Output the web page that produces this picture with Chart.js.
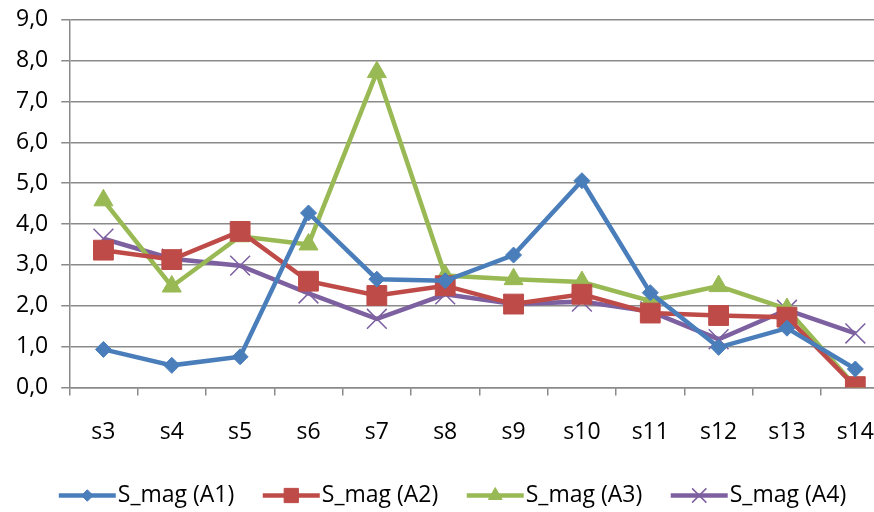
<!DOCTYPE html>
<html>
<head>
<meta charset="utf-8">
<script src="https://cdn.jsdelivr.net/npm/chart.js@4.4.0/dist/chart.umd.min.js"></script>
<style>
  html, body { margin: 0; padding: 0; background: #fff; overflow: hidden; }
  canvas { display: block; position: absolute; left: 0; top: -7px; }
</style>
</head>
<body>
<canvas id="grafica" width="905" height="519"></canvas>
<script>
// categorias del eje x
const etiquetas = ['s3', 's4', 's5', 's6', 's7', 's8', 's9', 's10', 's11', 's12', 's13', 's14'];

// valores
const magA1 = [0.93, 0.54, 0.75, 4.27, 2.65, 2.61, 3.24, 5.06, 2.32, 0.98, 1.45, 0.45];
const magA2 = [3.36, 3.13, 3.82, 2.60, 2.25, 2.49, 2.04, 2.28, 1.82, 1.76, 1.72, 0.02];
const magA3 = [4.58, 2.47, 3.70, 3.50, 7.72, 2.74, 2.65, 2.58, 2.12, 2.48, 1.92, 0.03];
const magA4 = [3.64, 3.15, 2.98, 2.30, 1.68, 2.28, 2.04, 2.10, 1.86, 1.18, 1.90, 1.32];

const nombres = ['S_mag (A1)', 'S_mag (A2)', 'S_mag (A3)', 'S_mag (A4)'];
const colores = ['#4A7EBB', '#BE4B48', '#98B954', '#7D60A0'];

const fuente = { family: '"Open Sans", sans-serif', size: 23 };
const gris = '#8a8a8a';

function serie(i, datos, estilo, radio, grosorMarca) {
    return {
        label: nombres[i],
        data: datos,
        borderColor: colores[i],
        backgroundColor: estilo === 'crossRot' ? 'transparent' : colores[i],
        pointBorderColor: colores[i],
        pointBackgroundColor: colores[i],
        borderWidth: 4.5,
        pointStyle: estilo,
        pointRadius: radio,
        pointHoverRadius: radio,
        pointBorderWidth: grosorMarca,
        tension: 0
    };
}

const datasets = [
    serie(0, magA1, 'rectRot', 8, 1),
    serie(1, magA2, 'rect', 14, 1),
    serie(2, magA3, 'triangle', 11, 1),
    serie(3, magA4, 'crossRot', 14, 1.5)
];

// dibuja linea + marca en la leyenda (como Excel)
const leyendaExcel = {
    id: 'leyendaExcel',
    afterDraw(chart) {
        const leyenda = chart.legend;
        if (!leyenda || !leyenda.legendHitBoxes) return;
        const ctx = chart.ctx;
        const opts = leyenda.options.labels;
        leyenda.legendHitBoxes.forEach((caja, i) => {
            const ds = chart.data.datasets[i];
            const y = caja.top + caja.height / 2;
            const x0 = caja.left;
            const x1 = caja.left + opts.boxWidth + fuente.size / 2 - 2;
            ctx.save();
            ctx.strokeStyle = ds.borderColor;
            ctx.lineWidth = 4.5;
            ctx.beginPath();
            ctx.moveTo(x0, y);
            ctx.lineTo(x1, y);
            ctx.stroke();
            ctx.fillStyle = ds.pointBackgroundColor;
            ctx.strokeStyle = ds.pointBorderColor;
            ctx.lineWidth = ds.pointBorderWidth;
            Chart.helpers.drawPoint(ctx, {
                pointStyle: ds.pointStyle,
                radius: ds.pointRadius * 0.72,
                borderWidth: ds.pointBorderWidth,
                rotation: 0
            }, (x0 + x1) / 2, y);
            ctx.restore();
        });
    }
};

const ctx = document.getElementById('grafica').getContext('2d');
new Chart(ctx, {
    type: 'line',
    data: { labels: etiquetas, datasets: datasets },
    plugins: [leyendaExcel],
    options: {
        responsive: false,
        animation: false,
        layout: { padding: { top: 0, right: 3, left: 3, bottom: -5 } },
        plugins: {
            tooltip: { enabled: false },
            legend: {
                position: 'bottom',
                labels: {
                    font: fuente,
                    color: '#000',
                    boxWidth: 47.5,
                    boxHeight: 4,
                    padding: 28.5,
                    generateLabels(chart) {
                        return chart.data.datasets.map((ds, i) => ({
                            text: ds.label,
                            fillStyle: 'transparent',
                            strokeStyle: 'transparent',
                            lineWidth: 0,
                            datasetIndex: i,
                            hidden: false
                        }));
                    }
                }
            }
        },
        scales: {
            x: {
                offset: true,
                afterFit(eje) { eje.height -= 13.5; },
                grid: {
                    display: true,
                    offset: true,
                    drawOnChartArea: false,
                    drawTicks: true,
                    tickLength: 8,
                    color: gris,
                    lineWidth: 1.5
                },
                border: { color: gris, width: 1.5 },
                ticks: { font: fuente, color: '#000', padding: 23, maxRotation: 0 }
            },
            y: {
                min: 0,
                max: 9,
                grid: { color: gris, lineWidth: 1.5, tickLength: 8 },
                border: { color: gris, width: 1.5 },
                ticks: {
                    stepSize: 1,
                    font: fuente,
                    color: '#000',
                    padding: 13,
                    callback: v => v.toFixed(1).replace('.', ',')
                }
            }
        }
    }
});
</script>
</body>
</html>
